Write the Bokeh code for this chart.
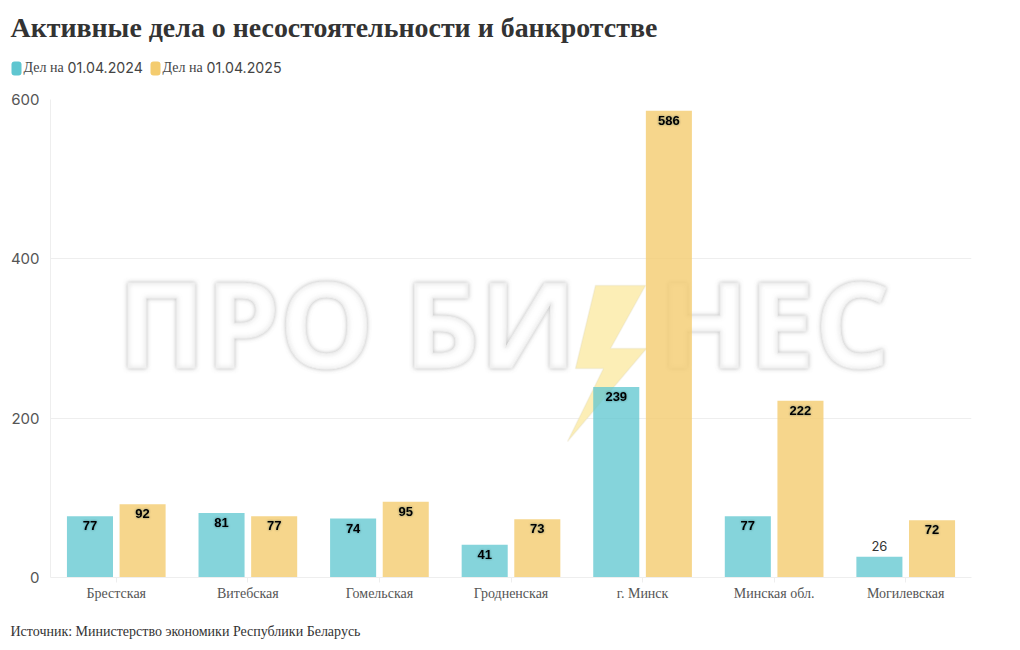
from bokeh.core.properties import value
from bokeh.plotting import figure, curdoc
from bokeh.layouts import column
from bokeh.events import DocumentReady
from bokeh.models import ColumnDataSource, Label, BoxAnnotation, PolyAnnotation, FactorRange, Range1d, FixedTicker, CustomJS
from bokeh.transform import dodge
from bokeh.embed import file_html
from bokeh.resources import INLINE

regions = ["Брестская", "Витебская", "Гомельская", "Гродненская", "г. Минск", "Минская обл.", "Могилевская"]
cases_2024 = [77, 81, 74, 41, 239, 77, 26]
cases_2025 = [92, 77, 95, 73, 586, 222, 72]
y_ticks = [0, 200, 400, 600]
title_text = "Активные дела о несостоятельности и банкротстве"
legend_word = "Дел на"
legend_2024 = "01.04.2024"
legend_2025 = "01.04.2025"
source_text = "Источник: Министерство экономики Республики Беларусь"
wm_left = "ПРО БИ"
wm_right = "НЕС"

TEAL = "#5fc6d0"
YELLOW = "#f4cc6f"
W = 1004
HEAD_H, MAIN_H, FOOT_H = 88, 523, 31
SERIF = "Liberation Serif"
NUM = "Inter"
FRAME_L, FRAME_B = 50, 577
BASE_SHIFT = 0.41

def strip(height):
    f = figure(width=W, height=height, x_range=Range1d(0, W), y_range=Range1d(0, height),
               output_backend="svg", toolbar_location=None, min_border=0, frame_align=False)
    f.axis.visible = False
    f.grid.visible = False
    f.outline_line_color = None
    return f

def lab(f, text, x, y_up, font, size, color, style="normal"):
    f.add_layout(Label(x=x, y=y_up + BASE_SHIFT * size, x_units="screen", y_units="screen", text=text,
                       text_font=font, text_font_size=f"{size}px", text_color=color, text_font_style=style,
                       text_baseline="alphabetic", text_align="left"))

head = strip(HEAD_H)
lab(head, title_text, 10, HEAD_H - 38, SERIF, 27.9, "#333333", "bold")
for x0, txt in ((23, legend_2024), (162, legend_2025)):
    lab(head, legend_word, x0, HEAD_H - 73, SERIF, 14, "#444444")
    lab(head, txt, x0 + 44, HEAD_H - 73, NUM, 14.2, "#444444")
for c, l in ((TEAL, 11), (YELLOW, 150)):
    head.add_layout(BoxAnnotation(left=l, right=l + 10, top=HEAD_H - 61, bottom=HEAD_H - 75,
                                  left_units="screen", right_units="screen", top_units="screen", bottom_units="screen",
                                  fill_color=c, fill_alpha=1, line_color=None, border_radius=3))

foot = strip(FOOT_H)
lab(foot, source_text, 10, FOOT_H - 26, SERIF, 14, "#333333")

p = figure(width=W, height=MAIN_H, x_range=FactorRange(*regions, range_padding=0, factor_padding=0),
           y_range=Range1d(0, 600), output_backend="svg", toolbar_location=None, frame_align=False,
           min_border_left=FRAME_L, min_border_right=33, min_border_top=11, min_border_bottom=34)
p.frame_width = 921
p.frame_height = 478
p.outline_line_color = None

p.yaxis.ticker = FixedTicker(ticks=y_ticks)
p.yaxis.major_label_text_font = NUM
p.yaxis.major_label_text_font_size = "15px"
p.yaxis.major_label_text_color = "#555555"
p.yaxis.axis_line_color = "#eeeeee"
p.yaxis.major_tick_line_color = None
p.yaxis.minor_tick_line_color = None
p.yaxis.major_tick_out = 0
p.yaxis.major_label_standoff = 11
p.xaxis.major_label_text_font = SERIF
p.xaxis.major_label_text_font_size = "14px"
p.xaxis.major_label_text_color = "#555555"
p.xaxis.axis_line_color = "#eeeeee"
p.xaxis.major_tick_line_color = "#eeeeee"
p.xaxis.major_tick_in = 0
p.xaxis.major_tick_out = 5
p.xaxis.major_label_standoff = 3
p.xgrid.grid_line_color = None
p.ygrid.grid_line_color = "#eeeeee"
p.ygrid.level = "underlay"

def px(x): return x - FRAME_L
def py(y): return FRAME_B - y

for txt, x in ((wm_left, 117), (wm_right, 658)):
    p.add_layout(Label(x=px(x), y=py(370) + BASE_SHIFT * 118, x_units="screen", y_units="screen", text=txt,
                       text_font="Open Sans", text_font_style="bold", text_font_size="118px", text_color="#ffffff",
                       text_outline_color="#eeeeee", text_baseline="alphabetic", level="underlay"))
bolt_x = [595, 645, 610, 646, 567, 603, 575]
bolt_y = [285, 285, 348, 348, 441, 368, 368]
p.add_layout(PolyAnnotation(xs=[px(v) for v in bolt_x], ys=[py(v) for v in bolt_y],
                            xs_units="screen", ys_units="screen",
                            fill_color="#fceeb6", fill_alpha=1, line_color="#e2dcc0", line_width=1.5, level="underlay"))

src = ColumnDataSource(dict(region=regions, y24=cases_2024, y25=cases_2025))
p.vbar(x=dodge("region", -0.2, range=p.x_range), top="y24", width=0.35, source=src,
       fill_color=TEAL, fill_alpha=0.76, line_color=None)
p.vbar(x=dodge("region", 0.2, range=p.x_range), top="y25", width=0.35, source=src,
       fill_color=YELLOW, fill_alpha=0.8, line_color=None)

inside = [i for i, v in enumerate(cases_2024) if v >= 30]
outside = [i for i, v in enumerate(cases_2024) if v < 30]
s_in = ColumnDataSource(dict(region=[regions[i] for i in inside], v=[cases_2024[i] for i in inside],
                             t=[str(cases_2024[i]) for i in inside]))
s_out = ColumnDataSource(dict(region=[regions[i] for i in outside], v=[cases_2024[i] for i in outside],
                              t=[str(cases_2024[i]) for i in outside]))
s_25 = ColumnDataSource(dict(region=regions, v=cases_2025, t=[str(v) for v in cases_2025]))
for s, d in ((s_in, -0.2), (s_25, 0.2)):
    p.text(x=dodge("region", d, range=p.x_range), y="v", text="t", source=s, y_offset=9.5,
           text_align="center", text_baseline="middle", text_font=value("Liberation Sans"), text_font_style="bold",
           text_font_size="13px", text_color="#000000")
p.text(x=dodge("region", -0.2, range=p.x_range), y="v", text="t", source=s_out, y_offset=-11,
       text_align="center", text_baseline="middle", text_font=value(NUM), text_font_style="normal",
       text_font_size="13px", text_color="#333333")

page = column(head, p, foot, spacing=0)

glow = CustomJS(args=dict(words=[wm_left, wm_right], marks=[str(v) for v in cases_2024 + cases_2025 if v != 26]), code="""
function svgs(root, out) {
  for (const el of root.querySelectorAll('*')) {
    if (el.tagName.toLowerCase() === 'svg') out.push(el);
    if (el.shadowRoot) svgs(el.shadowRoot, out);
  }
  return out;
}
const NS = 'http://www.w3.org/2000/svg';
function addFilter(svg, id, sd, color, op) {
  if (svg.querySelector('#' + id)) return;
  const f = document.createElementNS(NS, 'filter');
  f.setAttribute('id', id);
  f.setAttribute('x', '-20%'); f.setAttribute('y', '-40%');
  f.setAttribute('width', '140%'); f.setAttribute('height', '180%');
  const s = document.createElementNS(NS, 'feDropShadow');
  s.setAttribute('dx', '0'); s.setAttribute('dy', '0');
  s.setAttribute('stdDeviation', sd); s.setAttribute('flood-color', color); s.setAttribute('flood-opacity', op);
  f.appendChild(s); svg.appendChild(f);
}
function apply() {
  for (const svg of svgs(document, [])) {
    addFilter(svg, 'wmglow', '2.2', '#8c8c8c', '0.55');
    addFilter(svg, 'lblglow', '1.3', '#103038', '0.5');
    for (const t of svg.querySelectorAll('text')) {
      const c = t.textContent.trim();
      if (words.includes(c)) t.setAttribute('filter', 'url(#wmglow)');
      else if (marks.includes(c)) t.setAttribute('filter', 'url(#lblglow)');
    }
  }
}
setInterval(apply, 150);
""")
doc = curdoc()
doc.add_root(page)
doc.js_on_event(DocumentReady, glow)

open("out.html", "w").write(file_html(page, INLINE))
